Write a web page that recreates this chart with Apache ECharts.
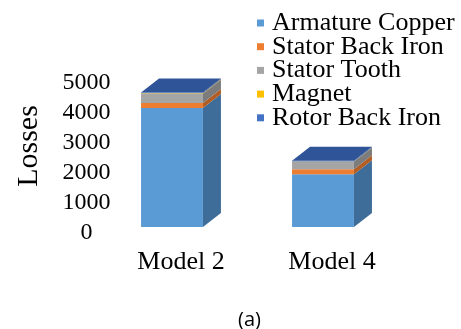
<!DOCTYPE html>
<html>
<head>
<meta charset="utf-8">
<script src="https://cdn.jsdelivr.net/npm/echarts@6/dist/echarts.min.js"></script>
<style>
  html, body { margin: 0; padding: 0; background: #fff; }
  #chart { width: 461px; height: 329px; }
</style>
</head>
<body>
<div id="chart"></div>
<script>
// Loss breakdown per machine model (W)
const categories = ['Model 2', 'Model 4'];
const armatureCopper = [3950, 1750];
const statorBackIron = [170, 165];
const statorTooth = [310, 250];
const magnet = [10, 10];
const rotorBackIron = [30, 30];

const seriesNames = ['Armature Copper', 'Stator Back Iron', 'Stator Tooth', 'Magnet', 'Rotor Back Iron'];
const seriesValues = [armatureCopper, statorBackIron, statorTooth, magnet, rotorBackIron];
const yTicks = [0, 1000, 2000, 3000, 4000, 5000];

// face colours: front, side, top
const frontColors = ['#5B9BD5', '#ED7D31', '#A5A5A5', '#FFC000', '#4472C4'];
const sideColors  = ['#3F6D99', '#B15D24', '#7C7C7C', '#BF9000', '#335A9E'];
const topColor = '#2F5498';

const DX = 18, DY = -14;     // oblique depth offset
const BAR_FRAC = 0.41;       // front face width as share of category band
const SERIF = '"Liberation Serif", serif';

// cumulative stacking
const stacked = [];
const base = categories.map(() => 0);
seriesValues.forEach((vals) => {
  stacked.push(categories.map((c, j) => {
    const lo = base[j];
    base[j] += vals[j];
    return [j, lo, base[j]];
  }));
});

function makeRender(si) {
  const isTop = si === seriesValues.length - 1;
  return function (params, api) {
    const j = api.value(0);
    const p0 = api.coord([j, api.value(1)]);
    const p1 = api.coord([j, api.value(2)]);
    const w = api.size([1, 0])[0] * BAR_FRAC;
    const xl = p0[0] - w / 2, xr = p0[0] + w / 2;
    const yb = p0[1], yt = p1[1];
    const children = [
      { type: 'polygon', shape: { points: [[xr, yb], [xr, yt], [xr + DX, yt + DY], [xr + DX, yb + DY]] },
        style: { fill: sideColors[si] } },
      { type: 'rect', shape: { x: xl, y: yt, width: w, height: yb - yt },
        style: { fill: frontColors[si] } }
    ];
    if (isTop) {
      children.push({ type: 'polygon',
        shape: { points: [[xl, yt], [xr, yt], [xr + DX, yt + DY], [xl + DX, yt + DY]] },
        style: { fill: topColor } });
    }
    return { type: 'group', children };
  };
}

const chart = echarts.init(document.getElementById('chart'), null, { renderer: 'canvas' });

const yMin = yTicks[0], yMax = yTicks[yTicks.length - 1];

chart.setOption({
  animation: false,
  backgroundColor: '#ffffff',
  color: frontColors,
  textStyle: { fontFamily: SERIF, color: '#000' },
  grid: [
    // plotting area for the columns
    { left: 96.5, width: 302, top: 76.5, height: 150.5 },
    // value scale sits on the front edge of the floor, slightly lower
    { left: 96.5, width: 302, top: 82.5, height: 150.5 }
  ],
  legend: {
    orient: 'vertical',
    left: 257, top: 10,
    padding: 0,
    itemGap: -2.3,
    itemWidth: 7, itemHeight: 7,
    icon: 'rect',
    data: seriesNames,
    formatter: '{t|{name}}',
    textStyle: {
      fontFamily: SERIF, fontSize: 26, lineHeight: 26, color: '#000',
      rich: { t: { fontFamily: SERIF, fontSize: 26, lineHeight: 26, color: '#000', padding: [0, 0, 0, 3] } }
    }
  },
  xAxis: [
    {
      gridIndex: 0,
      type: 'category',
      data: categories,
      axisLine: { show: false },
      axisTick: { show: false },
      axisLabel: { fontFamily: SERIF, fontSize: 26, color: '#000', margin: 22, padding: [0, 0, 0, 18] }
    },
    { gridIndex: 1, type: 'category', data: categories, show: false }
  ],
  yAxis: [
    {
      gridIndex: 0,
      type: 'value', min: yMin, max: yMax, interval: 1000,
      show: false
    },
    {
      gridIndex: 1,
      type: 'value', min: yMin, max: yMax, interval: 1000,
      splitLine: { show: false },
      axisLine: { show: false },
      axisTick: { show: false },
      axisLabel: { fontFamily: SERIF, fontSize: 24, color: '#000', align: 'center', margin: 10,
                   formatter: (v) => String(v) }
    }
  ],
  graphic: [
    { type: 'text', x: 29, y: 146, rotation: Math.PI / 2,
      style: { text: 'Losses', font: '30px "Liberation Serif"', fill: '#000', align: 'center', verticalAlign: 'middle' } },
    { type: 'text', x: 249.5, y: 320,
      style: { text: '(a)', font: '20px "Open Sans"', fill: '#000', align: 'center', verticalAlign: 'middle' } }
  ],
  series: seriesNames.map((name, si) => ({
    name,
    type: 'custom',
    coordinateSystem: 'cartesian2d',
    xAxisIndex: 0, yAxisIndex: 0,
    itemStyle: { color: frontColors[si] },
    encode: { x: 0, y: [1, 2] },
    renderItem: makeRender(si),
    data: stacked[si]
  }))
});
</script>
</body>
</html>
